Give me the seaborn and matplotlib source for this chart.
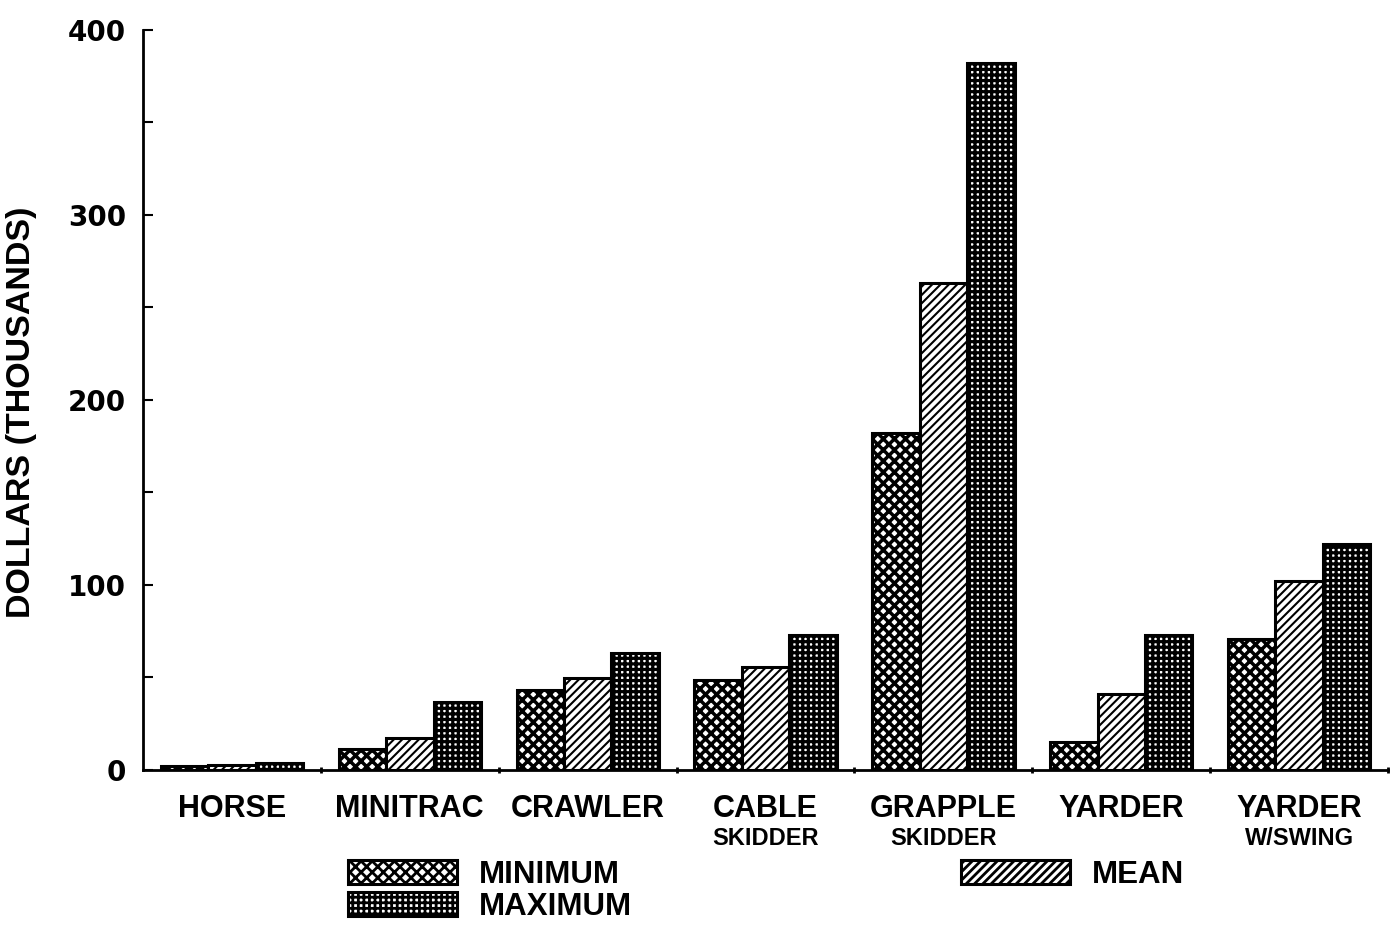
import matplotlib
matplotlib.use("Agg")
import matplotlib.pyplot as plt
import numpy as np
import pandas as pd
import seaborn as sns

# data (thousands of dollars)
machines = ['HORSE', 'MINITRAC', 'CRAWLER', 'CABLE SKIDDER', 'GRAPPLE SKIDDER', 'YARDER', 'YARDER W/SWING']
top_labels = ['HORSE', 'MINITRAC', 'CRAWLER', 'CABLE', 'GRAPPLE', 'YARDER', 'YARDER']
sub_labels = ['', '', '', 'SKIDDER', 'SKIDDER', '', 'W/SWING']
minimum = [2, 11.5, 43, 48.5, 182, 15, 71]
mean = [2.5, 17.5, 49.5, 55.5, 263, 41, 102]
maximum = [4, 37, 63, 73, 382, 73, 122]
stats = ['MINIMUM', 'MEAN', 'MAXIMUM']

sns.set_style("ticks")
font = ['Liberation Sans', 'DejaVu Sans']
plt.rcParams['font.family'] = font
plt.rcParams['hatch.linewidth'] = 2.0
for k in ['text.color', 'axes.labelcolor', 'xtick.color', 'ytick.color', 'axes.edgecolor']:
    plt.rcParams[k] = 'black'

df = pd.DataFrame({
    'machine': machines * 3,
    'stat': [s for s in stats for _ in machines],
    'value': minimum + mean + maximum,
})

fig = plt.figure(figsize=(13.94, 9.26), dpi=100)
ax = fig.add_axes([0.1026, 0.1685, 0.8931, 0.7991])

sns.barplot(data=df, x='machine', y='value', hue='stat', hue_order=stats,
            order=machines, palette=['white'] * 3, edgecolor='black',
            linewidth=2.2, legend=False, ax=ax, saturation=1)

hatches = {'MINIMUM': 'xxx', 'MEAN': '////', 'MAXIMUM': '+++'}
hlw = {'MINIMUM': 2.5, 'MEAN': 1.5, 'MAXIMUM': 2.3}
for cont, s in zip(ax.containers, stats):
    for p in cont.patches:
        p.set_hatch(hatches[s])
        if hasattr(p, 'set_hatch_linewidth'):
            p.set_hatch_linewidth(hlw[s])

ax.set_ylim(0, 400)
ax.set_xlim(-0.5, 6.5)
ax.set_yticks([0, 100, 200, 300, 400])
ax.set_yticks(np.arange(50, 400, 100), minor=True)
ax.set_yticklabels(['0', '100', '200', '300', '400'], fontfamily='DejaVu Sans',
                   fontweight='bold', fontsize=20)
ax.tick_params(axis='y', which='both', direction='in', length=7, width=1.5, pad=12)

ax.set_xticks(range(len(machines)))
ax.set_xticklabels(top_labels, fontweight='bold', fontsize=22)
ax.set_xticks(np.arange(0.5, 7, 1), minor=True)
ax.tick_params(axis='x', which='major', length=0, pad=17)
ax.tick_params(axis='x', which='minor', direction='inout', length=5, width=2)
for i, t in enumerate(sub_labels):
    if t:
        ax.annotate(t, xy=(i, 0), xycoords=('data', 'axes fraction'),
                    xytext=(0, -49), textcoords='offset points',
                    ha='center', va='center', fontsize=17, fontweight='bold')

ax.set_xlabel('')
ax.set_ylabel('DOLLARS (THOUSANDS)', fontsize=24.5, fontweight='bold')
ax.yaxis.set_label_coords(-0.085, 0.484)

sns.despine(ax=ax)
ax.spines['left'].set_linewidth(2)
ax.spines['bottom'].set_linewidth(2)

c = ax.containers
fig.legend([c[0].patches[0], c[2].patches[0], c[1].patches[0]],
           ['MINIMUM', 'MAXIMUM', 'MEAN'], ncol=2, frameon=False,
           loc='upper left', bbox_to_anchor=(348 / 1394, 1 - 860 / 926),
           borderaxespad=0, borderpad=0, handlelength=3.5, handleheight=0.8,
           handletextpad=0.7, labelspacing=0.05, columnspacing=10.5,
           prop={'weight': 'bold', 'size': 22.5, 'family': font})

plt.savefig('out.png', dpi=100)
